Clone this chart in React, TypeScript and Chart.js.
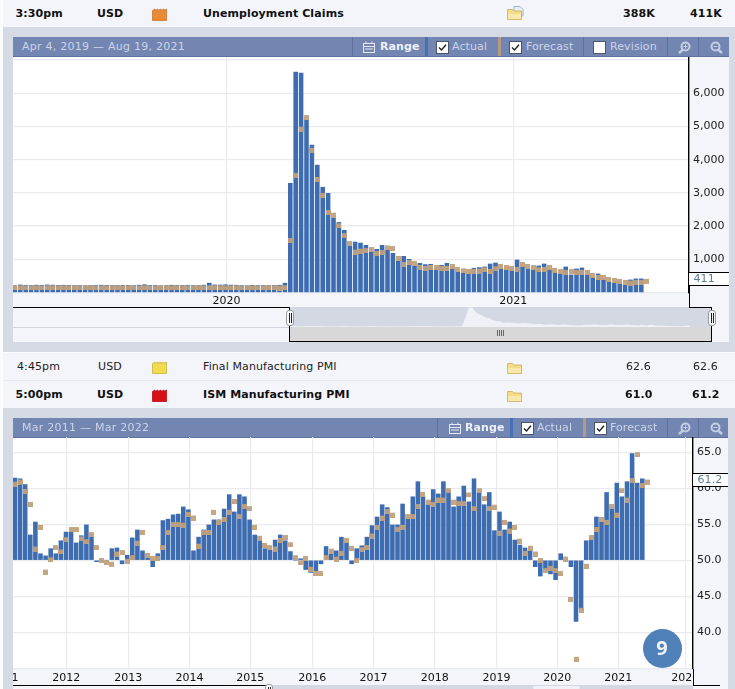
import React, { useEffect, useRef } from "react";
import { Chart, registerables } from "chart.js";

Chart.register(...registerables);

// ---- Unemployment Claims (thousands), one entry per week from Apr 4, 2019 ----
const claimsActual: (number | null)[] = [
  204,228,218,212,222,218,229,222,216,219,216,210,215,206,209,216,220,217,211,209,216,213,209,221,235,
  216,213,204,209,219,215,214,218,212,210,222,282,228,225,234,222,219,213,204,216,211,212,210,215,219,282,
  3290,6640,6610,5195,4440,3840,3170,2987,2240,2110,1873,1400,1520,1490,1420,1220,1300,1420,1270,1180,
  950,1090,1000,800,880,840,850,680,820,880,710,620,590,560,730,750,770,860,890,710,680,650,980,
  770,710,680,800,860,680,590,560,770,530,710,740,530,450,560,380,320,290,260,230,380,410,410,null,
];
const claimsForecast: number[] = [
  215,215,215,215,215,216,218,215,216,216,214,215,218,218,218,216,212,215,213,212,214,214,216,212,215,
  215,213,215,216,212,213,215,215,215,216,216,217,220,215,216,212,216,215,216,214,216,214,216,216,210,220,
  1640,3600,4995,5345,4360,3480,3000,2485,2405,2084,1790,1550,1290,1320,1340,1370,1250,1280,1420,1400,
  1100,920,980,950,830,800,830,830,800,800,860,770,730,710,710,720,760,710,790,860,830,800,770,
  920,860,830,760,770,830,740,710,680,710,680,680,680,590,530,530,470,440,410,380,360,380,380,411,
];
const claimsYTicks = [0, 1000, 2000, 3000, 4000, 5000, 6000, 7000];
const claimsYearLabels = ["2020", "2021"];
const claimsYearWeeks = [39.2, 92.3];

// ---- ISM Manufacturing PMI, one entry per month from Mar 2011 ----
const pmiActual: (number | null)[] = [
  61.4,61.3,60.5,53.5,55.3,50.9,50.6,51.6,50.9,52.7,53.9,53.9,52.4,53.4,54.9,53.2,49.8,49.9,50.0,51.6,
  51.7,49.5,50.7,53.1,54.2,51.3,50.3,49.1,50.9,55.5,55.7,56.3,56.4,57.4,57.0,51.3,53.2,54.2,54.9,55.6,
  55.6,57.1,59.1,56.7,59.1,58.8,
  55.6,53.5,52.7,51.6,51.4,52.8,53.5,52.7,51.2,50.0,50.2,48.7,48.3,48.5,49.5,51.9,50.9,51.3,53.2,52.4,
  49.5,51.6,52.0,53.2,54.8,56.0,57.7,57.3,54.9,54.9,57.8,55.7,58.8,60.9,58.8,57.7,59.8,59.2,60.9,59.4,
  57.4,58.8,60.3,58.1,61.3,59.4,57.7,59.4,
  54.1,56.7,54.2,55.3,52.8,52.1,51.7,51.3,49.1,47.8,48.7,48.1,47.3,50.9,50.0,49.1,41.5,43.3,52.7,52.8,
  56.0,55.3,59.4,57.1,60.7,58.8,60.9,64.8,60.7,61.3,null,
];
const pmiForecast: number[] = [
  60.9,61.2,59.9,58.1,51.9,54.9,48.7,50.4,52.1,51.5,53.2,54.6,54.6,53.3,52.9,53.9,52.1,50.3,50.0,49.8,
  51.2,51.4,50.2,50.7,52.7,54.2,51.0,50.6,50.6,52.1,54.2,55.3,55.3,55.2,56.7,56.2,52.3,54.2,54.2,57.0,
  55.6,56.0,57.0,58.5,56.4,57.8,
  57.5,54.9,53.4,52.4,52.1,51.9,53.1,53.5,52.5,50.7,50.0,50.6,49.1,48.5,48.5,50.7,51.6,50.5,51.3,53.1,
  52.0,50.3,51.8,52.1,53.7,54.9,56.2,57.1,56.6,54.6,54.9,56.4,56.4,57.8,59.5,58.4,58.1,58.7,58.7,60.0,
  58.4,58.2,58.2,59.4,57.5,60.0,58.9,57.5,
  57.7,54.1,55.6,54.4,54.9,53.0,51.3,52.0,51.2,50.3,48.9,49.2,48.9,48.5,50.5,44.9,36.6,43.4,49.5,53.5,
  54.6,56.0,55.6,57.8,56.6,60.0,58.7,61.4,65.0,60.7,61.2,
];
const pmiYTicks = [35, 40, 45, 50, 55, 60, 65];
const pmiYearLabels = ["1", "2012", "2013", "2014", "2015", "2016", "2017", "2018", "2019", "2020", "2021", "202  "];
const pmiYearMonths = [0, 10.06, 22.2, 34.2, 46.14, 58.3, 70.3, 82.3, 94.4, 106.3, 118.3, 131.4];

const BLUE = "#3d6cb0";
const TAN = "rgba(192,160,124,0.94)";
const GRID = "#e9ebef";
const ROW = "#f3f5fa";
const FRAME = "#d5dae4";
const HEAD = "#7385b1";
const FONT = "'DejaVu Sans', sans-serif";

// marker whose top edge sits on the value: the lower half of a canvas centred on the point
function forecastMarker(): HTMLCanvasElement {
  const c = document.createElement("canvas");
  c.width = 5;
  c.height = 10;
  const g = c.getContext("2d")!;
  g.fillStyle = TAN;
  g.fillRect(0, 5, 5, 5);
  return c;
}

function xy(values: (number | null)[]) {
  return values.map((y, x) => ({ x, y }));
}

function noPadding(s: any) {
  s.paddingTop = 0;
  s.paddingBottom = 0;
  s.paddingLeft = 0;
  s.paddingRight = 0;
}

function makeChart(
  canvas: HTMLCanvasElement,
  cfg: {
    actual: (number | null)[];
    forecast: number[];
    base: number;
    xMin: number;
    xMax: number;
    yMin: number;
    yMax: number;
    xTicks: number[];
    xLabels: string[];
    yTicks: number[];
    yHidden: number[];
    yFormat: (v: number) => string;
    axisWidth: number;
    bandHeight: number;
    labelPad: number;
    hiddenGrid: number[];
  }
) {
  return new Chart(canvas, {
    type: "bar",
    data: {
      datasets: [
        {
          type: "line",
          label: "Forecast",
          data: xy(cfg.forecast),
          showLine: false,
          pointStyle: forecastMarker(),
          pointRadius: 3,
          order: 1,
        },
        {
          type: "bar",
          label: "Actual",
          data: xy(cfg.actual),
          backgroundColor: BLUE,
          barThickness: 3.9,
          base: cfg.base,
          order: 2,
        },
      ],
    } as any,
    options: {
      responsive: false,
      animation: false,
      layout: { autoPadding: false, padding: 0 },
      events: [],
      plugins: { legend: { display: false }, tooltip: { enabled: false } },
      scales: {
        x: {
          type: "linear",
          offset: false,
          min: cfg.xMin,
          max: cfg.xMax,
          afterBuildTicks: (s: any) => {
            s.ticks = cfg.xTicks.map((value) => ({ value }));
          },
          afterFit: (s: any) => {
            s.height = cfg.bandHeight;
            noPadding(s);
          },
          grid: {
            offset: false,
            drawTicks: false,
            color: (c: any) => (cfg.hiddenGrid.includes(c.tick?.value) ? "transparent" : GRID),
            lineWidth: 1.2,
          },
          border: { display: false },
          ticks: {
            autoSkip: false,
            maxRotation: 0,
            padding: cfg.labelPad,
            color: "#111",
            font: { family: FONT, size: 11 },
            callback: (v: any) => cfg.xLabels[cfg.xTicks.indexOf(v)] ?? "",
          },
        },
        y: {
          type: "linear",
          position: "right",
          min: cfg.yMin,
          max: cfg.yMax,
          afterBuildTicks: (s: any) => {
            s.ticks = cfg.yTicks.map((value) => ({ value }));
          },
          afterFit: (s: any) => {
            s.width = cfg.axisWidth;
            noPadding(s);
          },
          grid: { drawTicks: false, color: GRID, lineWidth: 1.2 },
          border: { display: true, color: "#000", width: 1.4 },
          ticks: {
            padding: 4,
            color: "#222",
            font: { family: FONT, size: 11 },
            callback: (v: any) => (cfg.yHidden.includes(v) ? "" : cfg.yFormat(v)),
          },
        },
      },
    } as any,
  });
}

const Box = (p: { x: number; y: number; w: number; h: number; c: string; style?: React.CSSProperties }) => (
  <div style={{ position: "absolute", left: p.x, top: p.y, width: p.w, height: p.h, background: p.c, ...p.style }} />
);

const Txt = (p: {
  x: number;
  cy: number;
  size?: number;
  bold?: boolean;
  c?: string;
  children: React.ReactNode;
  sp?: number;
}) => (
  <div
    style={{
      position: "absolute",
      left: p.x,
      top: p.cy - 10,
      height: 20,
      lineHeight: "20px",
      fontFamily: FONT,
      fontSize: p.size ?? 11,
      fontWeight: p.bold ? 700 : 400,
      color: p.c ?? "#111",
      whiteSpace: "pre",
      letterSpacing: p.sp ?? 0.1,
    }}
  >
    {p.children}
  </div>
);

const Factory = ({ x, y, c, d }: { x: number; y: number; c: string; d: string }) => (
  <svg style={{ position: "absolute", left: x, top: y }} width={15} height={13}>
    <path d="M0.5 12.5V2.5L3 1V2.5L6 1V2.5L9 1V2.5L12 1V2.5L14.5 1V12.5Z" fill={c} stroke={d} strokeWidth={0.8} />
  </svg>
);

const Folder = ({ x, y, paper }: { x: number; y: number; paper?: boolean }) => (
  <svg style={{ position: "absolute", left: x, top: y }} width={17} height={15}>
    {paper && <path d="M7 0.5H13L16 3.5V10H7Z" fill="#e8eef6" stroke="#8fa3bd" strokeWidth={0.8} />}
    <path d="M0.5 3.5H5.5L7 5H14.5V13.5H0.5Z" fill="#f5dc86" stroke="#c9ad5e" strokeWidth={0.8} />
    <path d="M1 8H14V13H1Z" fill="#f8e9a8" />
  </svg>
);

const Check = ({ x, y, on }: { x: number; y: number; on: boolean }) => (
  <svg style={{ position: "absolute", left: x, top: y }} width={13} height={13}>
    <rect x={0.5} y={0.5} width={12} height={12} fill="#fff" stroke="#4a5568" />
    {on && <path d="M3 6.5L5.5 9L10 3.8" fill="none" stroke="#222" strokeWidth={1.4} />}
  </svg>
);

const Calendar = ({ x, y }: { x: number; y: number }) => (
  <svg style={{ position: "absolute", left: x, top: y }} width={13} height={12}>
    <rect x={0.5} y={2.5} width={11} height={9} fill="none" stroke="#e4e9f4" />
    <path d="M0.5 5.5H11.5M3 0.5V3M9 0.5V3M2 8H10" stroke="#e4e9f4" />
  </svg>
);

const Lens = ({ x, y, minus }: { x: number; y: number; minus?: boolean }) => (
  <svg style={{ position: "absolute", left: x, top: y }} width={13} height={13}>
    <circle cx={minus ? 5.5 : 7.5} cy={5.5} r={4} fill="none" stroke="#c4cfe4" strokeWidth={2} />
    <path d={minus ? "M8 8.5L12 12" : "M5 8.5L1 12"} stroke="#c4cfe4" strokeWidth={2.4} />
    <path d={minus ? "M3.5 5.5H7.5" : "M5.5 5.5H9.5M7.5 3.5V7.5"} stroke="#c4cfe4" strokeWidth={1} />
  </svg>
);

const Handle = ({ x, y }: { x: number; y: number }) => (
  <div
    style={{
      position: "absolute",
      left: x,
      top: y,
      width: 6,
      height: 14,
      background: "#f6f7f9",
      border: "1px solid #9a9a9a",
      borderRadius: 3,
      zIndex: 5,
    }}
  >
    <Box x={1.5} y={2} w={1} h={10} c="#222" />
    <Box x={3.5} y={2} w={1} h={10} c="#222" />
  </div>
);

const HeadText = "#cbd4e8";

export default function App() {
  const topRef = useRef<HTMLCanvasElement>(null);
  const navRef = useRef<HTMLCanvasElement>(null);
  const botRef = useRef<HTMLCanvasElement>(null);

  useEffect(() => {
    document.body.style.margin = "0";
    const top = makeChart(topRef.current!, {
      actual: claimsActual,
      forecast: claimsForecast,
      base: 0,
      xMin: -0.35,
      xMax: 124.83,
      yMin: -15,
      yMax: 7093,
      xTicks: claimsYearWeeks,
      xLabels: claimsYearLabels,
      yTicks: claimsYTicks,
      yHidden: [0, 7000],
      yFormat: (v) => v.toLocaleString("en-US"),
      axisWidth: 40,
      bandHeight: 14,
      labelPad: 2,
      hiddenGrid: [],
    });
    const bot = makeChart(botRef.current!, {
      actual: pmiActual,
      forecast: pmiForecast,
      base: 50,
      xMin: -0.39,
      xMax: 132.94,
      yMin: 34.9,
      yMax: 67.1,
      xTicks: pmiYearMonths,
      xLabels: pmiYearLabels,
      yTicks: pmiYTicks,
      yHidden: [35],
      yFormat: (v) => v.toFixed(1),
      axisWidth: 35,
      bandHeight: 16,
      labelPad: 3,
      hiddenGrid: [0],
    });
    const nav = new Chart(navRef.current!, {
      type: "line",
      data: {
        datasets: [
          {
            data: xy(claimsActual),
            borderWidth: 0,
            pointRadius: 0,
            fill: "origin",
            backgroundColor: "#eff1f6",
          },
        ],
      } as any,
      options: {
        responsive: false,
        animation: false,
        events: [],
        layout: { autoPadding: false, padding: 0 },
        plugins: { legend: { display: false }, tooltip: { enabled: false } },
        scales: {
          x: { type: "linear", min: 0, max: 122, display: false },
          y: { type: "linear", min: 0, max: 6900, display: false },
        },
      } as any,
    });
    return () => {
      top.destroy();
      bot.destroy();
      nav.destroy();
    };
  }, []);

  return (
    <div style={{ position: "absolute", left: 0, top: 0, width: 735, height: 689, overflow: "hidden", background: "#fafbfc" }}>
      {/* table row: claims */}
      <Box x={3} y={0} w={732} h={27} c={ROW} />
      <Txt x={15.5} cy={14} bold>3:30pm</Txt>
      <Txt x={97} cy={14} bold>USD</Txt>
      <Factory x={152} y={8} c="#e98b36" d="#c9772c" />
      <Txt x={203} cy={14} bold>Unemployment Claims</Txt>
      <Folder x={507} y={6} paper />
      <Txt x={623} cy={14} bold>388K</Txt>
      <Txt x={690} cy={14} bold>411K</Txt>

      {/* claims frame */}
      <Box x={3} y={27} w={732} h={325} c={FRAME} />
      <Box x={13} y={37} w={716} h={20} c={HEAD} style={{ borderBottom: "1px solid #5e709e", boxSizing: "border-box" }} />
      <Box x={13} y={57} w={676} h={236} c="#fff" />
      <Box x={689} y={57} w={40} h={285} c={ROW} />
      <Box x={13} y={293} w={676} h={14} c={ROW} />
      <canvas ref={topRef} width={716} height={250} style={{ position: "absolute", left: 13, top: 57 }} />
      <Txt x={22} cy={47} c={HeadText} sp={0.25}>Apr 4, 2019 — Aug 19, 2021</Txt>
      <Box x={352} y={37} w={1} h={19} c="#5e709e" />
      <Calendar x={363} y={41} />
      <Txt x={380} cy={47} bold c="#eef1f8">Range</Txt>
      <Box x={425} y={37} w={3} h={19} c="#4472b8" />
      <Check x={436} y={41} on />
      <Txt x={452} cy={47} c={HeadText}>Actual</Txt>
      <Box x={498} y={37} w={3} h={19} c="#b39a80" />
      <Check x={509} y={41} on />
      <Txt x={526} cy={47} c={HeadText}>Forecast</Txt>
      <Box x={583} y={37} w={1} h={19} c="#5e709e" />
      <Check x={593} y={41} on={false} />
      <Txt x={610} cy={47} c={HeadText}>Revision</Txt>
      <Box x={667} y={37} w={1} h={19} c="#5e709e" />
      <Lens x={678} y={41} />
      <Box x={698} y={37} w={1} h={19} c="#5e709e" />
      <Lens x={710} y={41} minus />

      {/* claims value flag and axis stub */}
      <Box x={689} y={272} w={40} h={13.5} c="#fff" style={{ borderTop: "1px solid #000", borderBottom: "1px solid #000", boxSizing: "border-box" }} />
      <Txt x={693.5} cy={279} c="#5b7c93">411</Txt>
      <Box x={689} y={285} w={1.4} h={22} c="#000" />

      {/* claims navigator */}
      <Box x={13} y={307} w={276} h={35} c={ROW} />
      <Box x={13} y={307} w={276} h={1.3} c="#000" />
      <Box x={13} y={327} w={276} h={1} c="#d0d4dc" />
      <Box x={289} y={307} w={422} h={20} c="#d3d8e3" />
      <canvas ref={navRef} width={422} height={20} style={{ position: "absolute", left: 289, top: 307 }} />
      <Box x={289} y={327} w={422} h={14} c="#d8d8d8" />
      <Box x={289} y={341} w={423} h={1.3} c="#000" />
      <Box x={289} y={307} w={1.3} h={35} c="#000" />
      <Box x={711} y={307} w={1.3} h={35} c="#000" />
      <Box x={689} y={307} w={23} h={1.3} c="#000" />
      {[0, 2, 4, 6].map((d) => (
        <Box key={d} x={497 + d} y={330} w={1} h={6} c="#666" />
      ))}
      <Handle x={286} y={310} />
      <Handle x={708} y={310} />

      {/* table rows: PMI */}
      <Box x={3} y={353} w={732} h={55} c={ROW} />
      <Box x={3} y={380} w={732} h={1} c="#e6e9ef" />
      <Txt x={17} cy={367} c="#222">4:45pm</Txt>
      <Txt x={98} cy={367} c="#222">USD</Txt>
      <Factory x={152} y={361} c="#f2dc4e" d="#c7b43f" />
      <Txt x={203} cy={367} c="#222">Final Manufacturing PMI</Txt>
      <Folder x={507} y={360} />
      <Txt x={626} cy={367} c="#222">62.6</Txt>
      <Txt x={693} cy={367} c="#222">62.6</Txt>
      <Txt x={15.5} cy={395} bold>5:00pm</Txt>
      <Txt x={97} cy={395} bold>USD</Txt>
      <Factory x={152} y={389} c="#d90f18" d="#b40d14" />
      <Txt x={203} cy={395} bold>ISM Manufacturing PMI</Txt>
      <Folder x={507} y={388} />
      <Txt x={625} cy={395} bold>61.0</Txt>
      <Txt x={692} cy={395} bold>61.2</Txt>

      {/* PMI frame */}
      <Box x={3} y={408} w={732} h={281} c={FRAME} />
      <Box x={13} y={418} w={715} h={20} c={HEAD} style={{ borderBottom: "1px solid #5e709e", boxSizing: "border-box" }} />
      <Box x={13} y={438} w={680} h={231} c="#fff" />
      <Box x={693} y={438} w={35} h={251} c={ROW} />
      <Box x={13} y={669} w={680} h={16} c={ROW} />
      <canvas ref={botRef} width={715} height={248} style={{ position: "absolute", left: 13, top: 437 }} />
      <Txt x={22} cy={428} c={HeadText} sp={0.25}>Mar 2011 — Mar 2022</Txt>
      <Box x={437} y={418} w={1} h={19} c="#5e709e" />
      <Calendar x={449} y={422} />
      <Txt x={465} cy={428} bold c="#eef1f8">Range</Txt>
      <Box x={510} y={418} w={3} h={19} c="#4472b8" />
      <Check x={521} y={422} on />
      <Txt x={537} cy={428} c={HeadText}>Actual</Txt>
      <Box x={583} y={418} w={3} h={19} c="#b39a80" />
      <Check x={594} y={422} on />
      <Txt x={610} cy={428} c={HeadText}>Forecast</Txt>
      <Box x={667} y={418} w={1} h={19} c="#5e709e" />
      <Lens x={678} y={422} />
      <Box x={698} y={418} w={1} h={19} c="#5e709e" />
      <Lens x={710} y={422} minus />

      {/* PMI value flag and axis stub */}
      <Box x={693} y={473} w={35} h={13.5} c="#fff" style={{ borderTop: "1px solid #000", borderBottom: "1px solid #000", boxSizing: "border-box" }} />
      <Txt x={697.5} cy={480} c="#5b7c93">61.2</Txt>
      <Box x={693} y={669} w={1.4} h={16} c="#000" />
      <Box x={693} y={685} w={27} h={1.3} c="#000" />

      {/* PMI navigator */}
      <Box x={13} y={685} w={255} h={4} c={ROW} />
      <Box x={13} y={685} w={255} h={1.3} c="#000" />
      <Box x={268} y={685} w={425} h={4} c="#d3d8e3" />
      <Box x={533} y={686} w={47} h={3} c="#eff1f6" style={{ borderRadius: 2 }} />
      <Handle x={265} y={684} />

      {/* badge */}
      <div
        style={{
          position: "absolute",
          left: 642.5,
          top: 629,
          width: 39,
          height: 39,
          borderRadius: "50%",
          background: "#4f81b8",
          color: "#eef3f9",
          fontFamily: "'Open Sans', sans-serif",
          fontWeight: 700,
          fontSize: 20,
          lineHeight: "38px",
          textAlign: "center",
          zIndex: 6,
        }}
      >
        9
      </div>
    </div>
  );
}
